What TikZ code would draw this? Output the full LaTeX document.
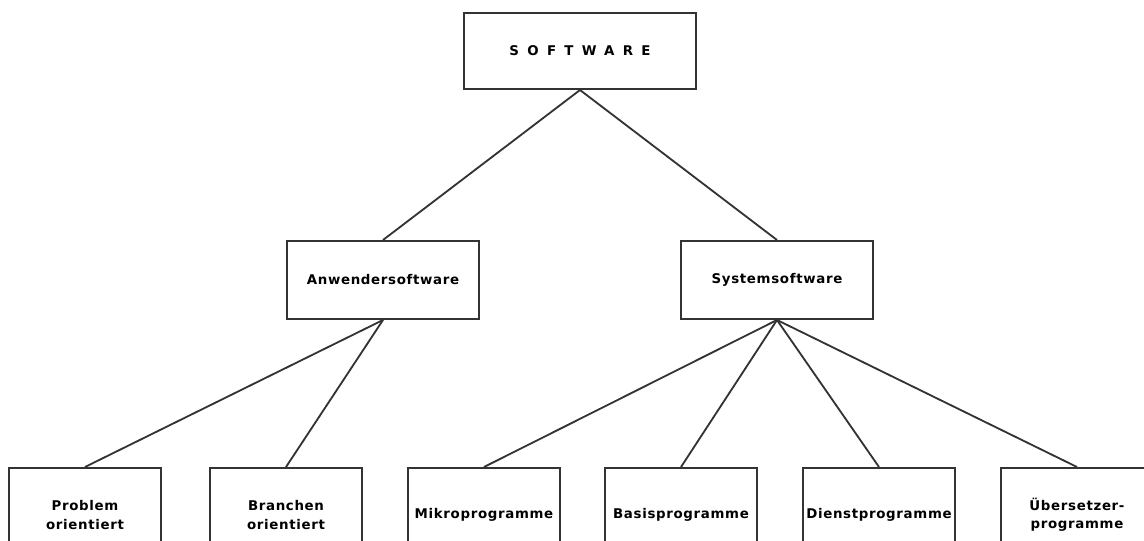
\documentclass[tikz,border=0pt]{standalone}
\usepackage{fontspec}
\setmainfont{DejaVu Sans}
\tikzset{
  box/.style={draw=black!80, line width=1.4pt, inner sep=0pt, align=center,
    font=\fontsize{9.5}{13}\selectfont\bfseries\addfontfeature{LetterSpace=5}},
  topbox/.style={box, minimum width=5.775cm, minimum height=1.9cm},
  midbox/.style={box, minimum width=4.8cm, minimum height=1.95cm},
  leafbox/.style={box, minimum width=3.8cm, minimum height=2.35cm},
}
\begin{document}
\begin{tikzpicture}[x=0.025cm, y=-0.025cm]
      \useasboundingbox (0,0) rectangle (1144,540);
      \clip (0,0) rectangle (1144,540);
      \draw
        (580,51) node[topbox] (sw){\addfontfeature{LetterSpace=62}SOFTWARE}
        (383,280) node[midbox] (anw){Anwendersoftware}
        (777,280) node[midbox] (sys){Systemsoftware}
        (85,515) node[leafbox] (prob){Problem\\orientiert}
        (286,515) node[leafbox] (bran){Branchen\\orientiert}
        (484,515) node[leafbox] (mikro){Mikroprogramme}
        (681,515) node[leafbox] (basis){Basisprogramme}
        (879,515) node[leafbox] (dienst){Dienstprogramme}
        (1077,515) node[leafbox] (ueber){Übersetzer-\\programme};
      \begin{scope}[-, line width=1.3pt, draw=black!80]
        \draw (sw.south) to (anw.north);
        \draw (sw.south) to (sys.north);
        \draw (anw.south) to (prob.north);
        \draw (anw.south) to (bran.north);
        \draw (sys.south) to (mikro.north);
        \draw (sys.south) to (basis.north);
        \draw (sys.south) to (dienst.north);
        \draw (sys.south) to (ueber.north);
      \end{scope}
    \end{tikzpicture}
\end{document}
